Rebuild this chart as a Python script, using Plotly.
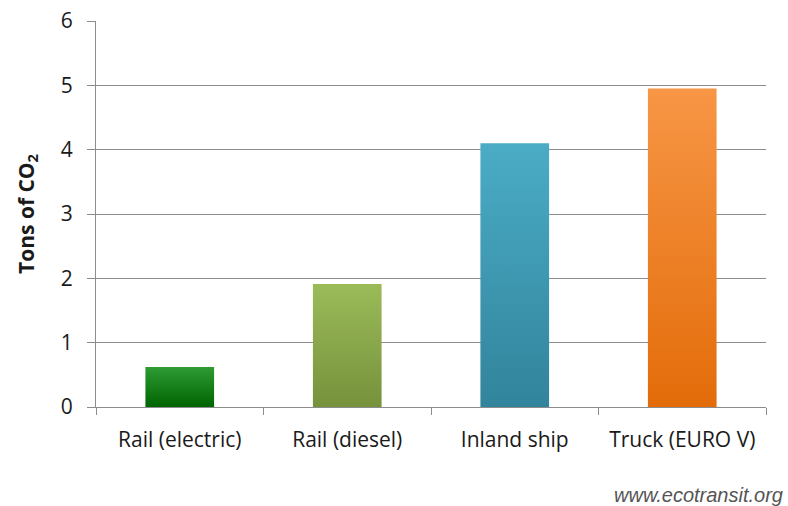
import plotly.graph_objects as go

# CO2 emissions per transport mode (tons)
modes = ["Rail (electric)", "Rail (diesel)", "Inland ship", "Truck (EURO V)"]
tons_co2 = [0.62, 1.91, 4.10, 4.95]
top_colors = ["#2e9b34", "#9bbb59", "#4bacc6", "#f79646"]
bottom_colors = ["#006400", "#76923c", "#31849b", "#e36c09"]
y_ticks = [0, 1, 2, 3, 4, 5, 6]

BAR_HALF = 0.205
FONT = "Open Sans"

fig = go.Figure()

# Each bar is a filled rectangle with a vertical colour gradient
for i, (name, val, c_top, c_bot) in enumerate(zip(modes, tons_co2, top_colors, bottom_colors)):
    x0, x1 = i - BAR_HALF, i + BAR_HALF
    fig.add_trace(go.Scatter(
        x=[x0, x1, x1, x0, x0],
        y=[0, 0, val, val, 0],
        mode="lines",
        line=dict(width=0),
        fill="toself",
        fillgradient=dict(type="vertical", colorscale=[[0, c_bot], [1, c_top]]),
        name=name,
        hoverinfo="text",
        text=f"{name}: {val}",
        showlegend=False,
    ))

fig.update_layout(
    width=788, height=506,
    margin=dict(l=96, r=22, t=21, b=99),
    paper_bgcolor="white", plot_bgcolor="white",
    font=dict(family=FONT, color="#1a1a1a"),
    xaxis=dict(
        range=[-0.5, 3.5],
        tickvals=list(range(len(modes))),
        ticktext=modes,
        ticks="", showgrid=False, zeroline=False,
        tickfont=dict(size=21, family=FONT),
        ticklabelstandoff=14,
        showline=True, linecolor="#8c8c8c", linewidth=1,
        minor=dict(ticks="outside", tick0=-0.5, dtick=1, ticklen=7,
                   tickcolor="#8c8c8c", showgrid=False),
        automargin=False,
        fixedrange=True,
    ),
    yaxis=dict(
        range=[0, 6],
        tickvals=y_ticks,
        ticks="outside", ticklen=8, tickcolor="#8c8c8c",
        tickfont=dict(size=21, family=FONT),
        ticklabelstandoff=10,
        showgrid=True, gridcolor="#8c8c8c", gridwidth=1,
        zeroline=False,
        showline=True, linecolor="#8c8c8c", linewidth=1,
        title=dict(text="<b>Tons of CO<sub>2</sub></b>", font=dict(size=21, family=FONT), standoff=20),
        automargin=False,
        fixedrange=True,
    ),
)

fig.add_annotation(
    text="<i>www.ecotransit.org</i>",
    xref="paper", yref="paper", x=1.028, y=-0.195,
    xanchor="right", yanchor="top", showarrow=False,
    font=dict(family="Liberation Sans", size=20, color="#555555"),
)

fig.write_html("out.html")
